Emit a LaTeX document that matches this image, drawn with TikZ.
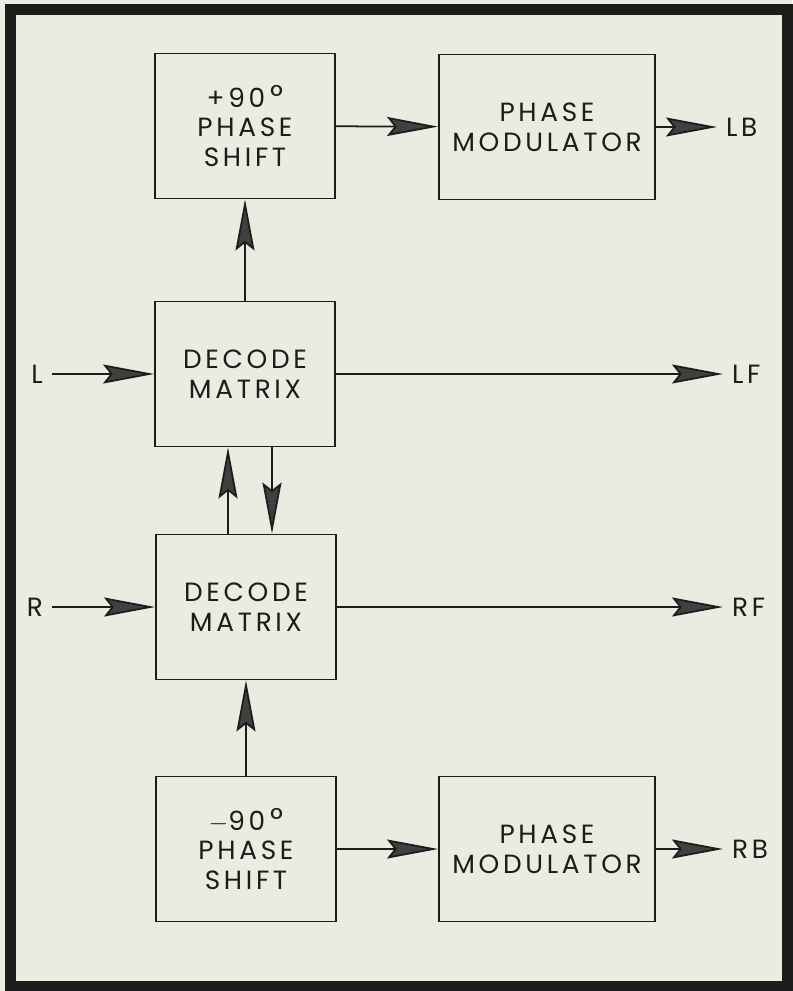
\documentclass[tikz,border=0pt]{standalone}
\usepackage{fontspec}
\setmainfont{Poppins}[LetterSpace=14]
\usetikzlibrary{arrows.meta}
\definecolor{paper}{RGB}{236,235,225}
\definecolor{ink}{RGB}{28,28,26}
\newcommand\degsign{{\fontsize{18}{17}\selectfont\,°}}
\begin{document}
\begin{tikzpicture}[x=0.02cm, y=-0.02cm, font=\fontsize{15}{17}\selectfont, text=ink,
  blk/.style={draw=ink,line width=1.1pt,align=center,minimum width=3.6cm,minimum height=2.9cm,inner sep=0pt},
  mod/.style={blk,minimum width=4.32cm},
  lbl/.style={inner sep=5pt},
  sig/.style={draw=ink,line width=1pt,-{Stealth[length=1.02cm,width=0.38cm,inset=0.15cm,fill=black!75]}}]
\fill[paper] (0,0) rectangle (792,991);
\useasboundingbox (0,0) rectangle (792,991);
\draw[ink,line width=0.22cm] (10.5,9) rectangle (787,986);
% left column of blocks
\node[blk] (ps1) at (245,126) {+90\degsign\\PHASE\\SHIFT};
\node[blk] (dm1) at (245,374) {DECODE\\MATRIX};
\node[blk] (dm2) at (246,607) {DECODE\\MATRIX};
\node[blk] (ps2) at (246,849) {$-$90\degsign\\PHASE\\SHIFT};
% modulators
\node[mod] (pm1) at (547,127) {PHASE\\MODULATOR};
\node[mod] (pm2) at (547,849) {PHASE\\MODULATOR};
% inputs and outputs
\node[lbl,anchor=east] (L) at (52,374) {L}; \node[lbl,anchor=east] (R) at (52,607) {R};
\node[lbl,anchor=west] (LB) at (717,127) {LB}; \node[lbl,anchor=west] (LF) at (723,374) {LF};
\node[lbl,anchor=west] (RF) at (723,607) {RF}; \node[lbl,anchor=west] (RB) at (723,849) {RB};
\draw[sig] (L) -- (dm1); \draw[sig] (R) -- (dm2);
\draw[sig] (dm1) -- (LF); \draw[sig] (dm2) -- (RF);
\draw[sig] (ps1) -- (pm1); \draw[sig] (pm1) -- (LB);
\draw[sig] (ps2) -- (pm2); \draw[sig] (pm2) -- (RB);
\draw[sig] (dm1) -- (ps1); \draw[sig] (ps2) -- (dm2);
% cross coupling of the two matrices
\draw[sig] ([xshift=-0.36cm]dm2.north) -- ([xshift=-0.36cm]dm2.north |- dm1.south);
\draw[sig] ([xshift=0.54cm]dm1.south) -- ([xshift=0.54cm]dm1.south |- dm2.north);
\end{tikzpicture}
\end{document}
